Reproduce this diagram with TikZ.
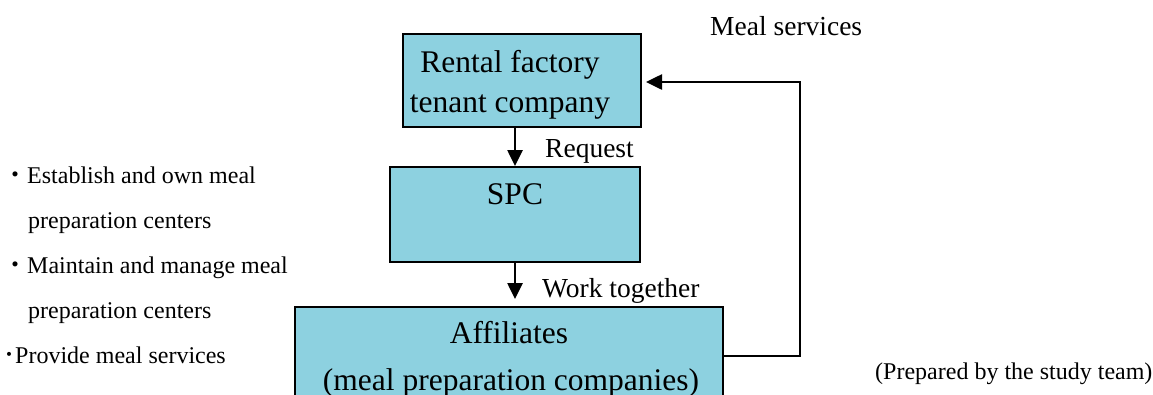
\documentclass[tikz,border=0pt]{standalone}
\usepackage{fontspec}
\setmainfont{Liberation Serif}
\newfontfamily\cjk{Noto Sans CJK JP}
\usetikzlibrary{arrows.meta}
\definecolor{boxblue}{RGB}{141,209,224}
\tikzset{
  stagebox/.style={draw=black, line width=2pt, fill=boxblue, rectangle, inner sep=0pt},
  boxtext/.style={anchor=base, inner sep=0pt, font=\fontsize{31.5pt}{38pt}\selectfont},
  flowlabel/.style={anchor=base west, inner sep=0pt, font=\fontsize{27.5pt}{33pt}\selectfont},
  notetext/.style={anchor=base west, inner sep=0pt, font=\fontsize{24pt}{29pt}\selectfont},
  flow/.style={line width=2.6pt, -{Triangle[length=16pt,width=15pt]}},
}
\begin{document}
\begin{tikzpicture}[x=1pt,y=-1pt]
  \useasboundingbox (0,0) rectangle (1153,394);
  \clip (0,0) rectangle (1153,394);

  % the three stages
  \node[stagebox, minimum width=238pt, minimum height=93pt] (rental) at (522,80.5) {};
  \node[stagebox, minimum width=250pt, minimum height=95pt] (spc) at (515,214.5) {};
  \node[stagebox, minimum width=428pt, minimum height=113pt] (affil) at (509,363.5) {};

  % box texts
  \node[boxtext] (rental1) at (510,72) {Rental factory};
  \node[boxtext] (rental2) at (510,112) {tenant company};
  \node[boxtext] (spctext) at (515,204) {SPC};
  \node[boxtext] (affil1) at (509,343) {Affiliates};
  \node[boxtext] (affil2) at (511,390) {(meal preparation companies)};

  % connectors
  \draw[flow] (spc.north |- rental.south) -- (spc.north);
  \draw[flow, shorten >=7pt] (spc.south) -- (spc.south |- affil.north);
  \coordinate (turnlow) at (800,356);
  \coordinate (turnhigh) at (800,82);
  \draw[flow, shorten >=4pt] (affil.east |- turnlow) -- (turnlow) -- (turnhigh) -- (rental.east |- turnhigh);

  % connector labels
  \node[flowlabel] (request) at (545,157) {Request};
  \node[flowlabel] (work) at (542,297) {Work together};
  \node[flowlabel] (meal) at (710,35) {Meal services};

  % SPC roles
  \node[notetext] (role1) at (3,183) {{\cjk ・}Establish and own meal};
  \node[notetext] (role1b) at (28,228) {preparation centers};
  \node[notetext] (role2) at (3,273) {{\cjk ・}Maintain and manage meal};
  \node[notetext] (role2b) at (28,318) {preparation centers};
  \node[notetext] (role3) at (3,363) {{\cjk ･}Provide meal services};

  % source note
  \node[notetext] (source) at (875,379) {(Prepared by the study team)};
\end{tikzpicture}
\end{document}
